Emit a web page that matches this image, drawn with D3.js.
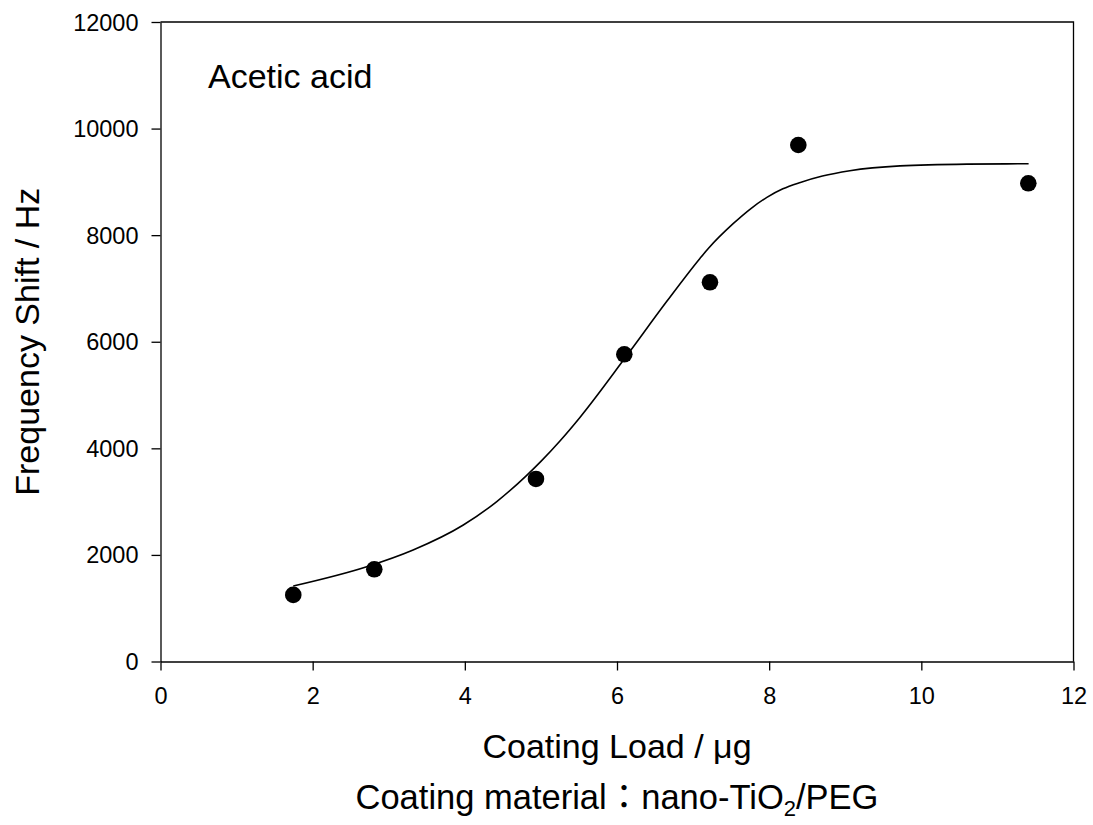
<!DOCTYPE html>
<html>
<head>
<meta charset="utf-8">
<script src="https://cdn.jsdelivr.net/npm/d3@7"></script>
<style>
  html, body { margin: 0; padding: 0; background: #fff; }
  svg { display: block; font-family: "Liberation Sans", Arial, sans-serif; }
</style>
</head>
<body>
<svg id="chart" width="1093" height="825"></svg>
<script>
// Measured data points (Coating Load / µg, Frequency Shift / Hz)
const loadX = [1.745, 2.81, 4.935, 6.096, 7.222, 8.383, 11.406];
const shiftY = [1250, 1730, 3425, 5765, 7116, 9692, 8973];

// Fitted curve
const curveX = [1.745, 2.71, 3.32, 3.98, 4.42, 4.81, 5.0, 5.25, 5.51, 6.10, 6.65, 7.09, 7.20, 7.53, 7.76, 7.97, 8.18, 8.41, 8.70, 9.06, 9.72, 10.60, 11.41];
const curveY = [1416, 1778, 2092, 2561, 3001, 3489, 3755, 4138, 4575, 5684, 6749, 7563, 7750, 8220, 8500, 8710, 8870, 8990, 9110, 9210, 9300, 9333, 9340];

const xTicks = [0, 2, 4, 6, 8, 10, 12];
const yTicks = [0, 2000, 4000, 6000, 8000, 10000, 12000];

const svg = d3.select("#chart");
const L = 160.5, R = 1073.5, T = 22, B = 661.5;

const x = d3.scaleLinear().domain([0, 12]).range([L, R]);
const y = d3.scaleLinear().domain([0, 12000]).range([B, T]);

// frame (top and right)
svg.append("path")
  .attr("d", `M${L},${T}H${R}V${B}`)
  .attr("fill", "none").attr("stroke", "#000").attr("stroke-width", 1.3);

const xAxis = svg.append("g").attr("transform", `translate(0,${B})`)
  .call(d3.axisBottom(x).tickValues(xTicks).tickFormat(d3.format("d")).tickSize(9).tickSizeOuter(0).tickPadding(17));
const yAxis = svg.append("g").attr("transform", `translate(${L},0)`)
  .call(d3.axisLeft(y).tickValues(yTicks).tickFormat(d3.format("d")).tickSize(9).tickSizeOuter(0).tickPadding(13));

[xAxis, yAxis].forEach(g => {
  g.selectAll("path.domain").attr("stroke", "#000").attr("stroke-width", 1.3);
  g.selectAll(".tick line").attr("stroke", "#000").attr("stroke-width", 1.3);
  g.selectAll(".tick text").attr("fill", "#000")
    .style("font-family", "'Liberation Sans', Arial, sans-serif").style("font-size", "23.5px");
});
yAxis.selectAll(".tick text").attr("dy", "0.34em");

// curve
const curvePts = curveX.map((d, i) => [d, curveY[i]]);
svg.append("path")
  .datum(curvePts)
  .attr("fill", "none").attr("stroke", "#000").attr("stroke-width", 1.6)
  .attr("d", d3.line().x(d => x(d[0])).y(d => y(d[1])).curve(d3.curveMonotoneX));

// points
svg.append("g").selectAll("circle")
  .data(loadX.map((d, i) => [d, shiftY[i]]))
  .join("circle")
  .attr("cx", d => x(d[0])).attr("cy", d => y(d[1]))
  .attr("r", 8.3).attr("fill", "#000");

// annotation
svg.append("text").attr("x", 208).attr("y", 87.5)
  .style("font-size", "34px").text("Acetic acid");

// axis titles
svg.append("text")
  .attr("transform", `translate(39,${(T + B) / 2}) rotate(-90)`)
  .attr("text-anchor", "middle").style("font-size", "34px")
  .text("Frequency Shift / Hz");

svg.append("text").attr("x", (L + R) / 2).attr("y", 758)
  .attr("text-anchor", "middle").style("font-size", "34px")
  .text("Coating Load / \u03bcg");

const t2 = svg.append("text").attr("x", (L + R) / 2).attr("y", 809)
  .attr("text-anchor", "middle").style("font-size", "34.5px");
t2.append("tspan").text("Coating material");
t2.append("tspan").style("font-family", "'Noto Sans CJK TC', sans-serif").text("\uff1a");
t2.append("tspan").text("nano-TiO");
t2.append("tspan").attr("dy", 7).style("font-size", "22px").text("2");
t2.append("tspan").attr("dy", -7).text("/PEG");
</script>
</body>
</html>
